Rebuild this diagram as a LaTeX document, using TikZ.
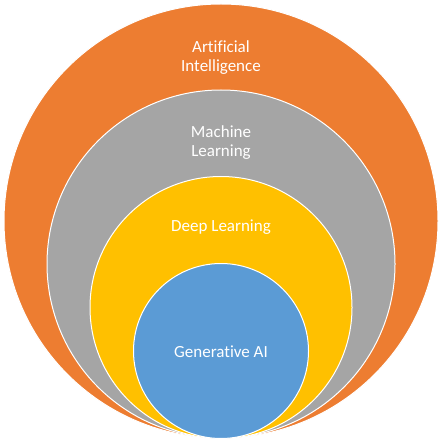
\documentclass[tikz,border=0pt]{standalone}
\usepackage{fontspec}
\setmainfont{Carlito}[Ligatures=NoCommon]
\definecolor{aiorange}{HTML}{ED7D31}
\definecolor{mlgray}{HTML}{A5A5A5}
\definecolor{dlyellow}{HTML}{FFC000}
\definecolor{genblue}{HTML}{5B9BD5}
\begin{document}
\begin{tikzpicture}[x=1pt,y=-1pt,
  ring/.style={draw=white,line width=1pt},
  lbl/.style={text=white,font=\fontsize{17}{19}\selectfont,align=center,inner sep=0pt}]
\useasboundingbox (0,0) rectangle (442,443);
\fill[white] (0,0) rectangle (442,443);
\path[ring,fill=aiorange] (221,221) circle (217);
\path[ring,fill=mlgray] (221,264) circle (174);
\path[ring,fill=dlyellow] (221,307.5) circle (131);
\path[ring,fill=genblue] (221,351) circle (87.5);
\node[lbl] (ai) at (221,57.5) {Artificial\\Intelligence};
\node[lbl] (ml) at (221,143) {Machine\\Learning};
\node[lbl] (dl) at (221,227) {Deep Learning};
\node[lbl] (gen) at (221,352) {Generative AI};
\end{tikzpicture}
\end{document}
